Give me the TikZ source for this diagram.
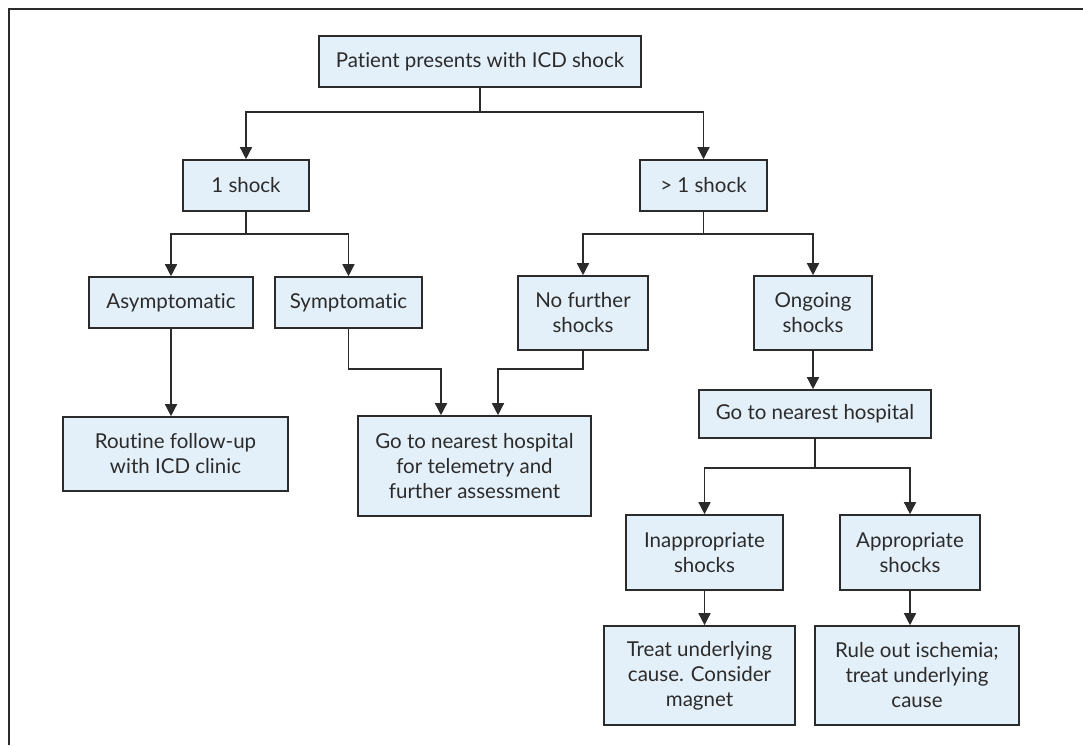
\documentclass[tikz,border=0pt]{standalone}
\usepackage{fontspec}
\setmainfont{Lato}[Ligatures={NoCommon}]
\usetikzlibrary{arrows.meta}
\definecolor{boxfill}{HTML}{E4F0F9}
\definecolor{ink}{HTML}{2B2B2B}
\begin{document}
\begin{tikzpicture}[x=1pt,y=-1pt,
  box/.style={draw=ink, line width=1.6pt, fill=boxfill, text=ink, inner sep=0pt,
    align=center, font=\fontsize{20.5}{25}\selectfont},
  conn/.style={draw=ink, line width=1.4pt, -{Triangle[width=12pt,length=12pt]}},
  plain/.style={draw=ink, line width=1.4pt},
  frame/.style={draw=ink, line width=1.8pt}]
\useasboundingbox (0,0) rectangle (1083,745);
\draw[frame] (9,745) -- (9,9) -- (1083,9);

\node[box, minimum width=322pt, minimum height=51pt] (top) at (480,61.5) {Patient presents with ICD shock};
\node[box, minimum width=126pt, minimum height=51pt] (s1) at (246,185.5) {1 shock};
\node[box, minimum width=127pt, minimum height=51pt] (sm) at (703.5,185.5) {> 1 shock};
\node[box, minimum width=164pt, minimum height=51pt] (asym) at (171,302.5) {Asymptomatic};
\node[box, minimum width=147pt, minimum height=51pt] (sym) at (348.5,302.5) {Symptomatic};
\node[box, minimum width=130pt, minimum height=74pt] (nof) at (583,313) {No further\\shocks};
\node[box, minimum width=118pt, minimum height=74pt] (ong) at (813,313) {Ongoing\\shocks};
\node[box, minimum width=225pt, minimum height=74pt] (rout) at (175.5,454) {Routine follow-up\\with ICD clinic};
\node[box, minimum width=233pt, minimum height=100pt] (hosp1) at (474.5,466) {Go to nearest hospital\\for telemetry and\\further assessment};
\node[box, minimum width=232pt, minimum height=48pt] (hosp2) at (815,414) {Go to nearest hospital};
\node[box, minimum width=157pt, minimum height=75pt] (inap) at (704.5,552.5) {Inappropriate\\shocks};
\node[box, minimum width=140pt, minimum height=75pt] (app) at (910,552.5) {Appropriate\\shocks};
\node[box, minimum width=191pt, minimum height=99pt] (treat) at (699.5,675.5) {Treat underlying\\cause. Consider\\magnet};
\node[box, minimum width=204pt, minimum height=99pt] (rule) at (917,675.5) {Rule out ischemia;\\treat underlying\\cause};

\coordinate (j0) at (480,112);
\coordinate (j1) at (246,234);
\coordinate (j2) at (703.5,234);
\coordinate (m1) at (441,369);
\coordinate (m2) at (498,369);
\coordinate (j3) at (815,468);

\draw[plain] (top.south) -- (j0);
\draw[conn] (j0) -| (s1.north);
\draw[conn] (j0) -| (sm.north);
\draw[plain] (s1.south) -- (j1);
\draw[conn] (j1) -| (asym.north);
\draw[conn] (j1) -| (sym.north);
\draw[plain] (sm.south) -- (j2);
\draw[conn] (j2) -| (nof.north);
\draw[conn] (j2) -| (ong.north);
\draw[conn] (asym.south) -- (asym.south |- rout.north);
\draw[conn] (sym.south) |- (m1) -- (m1 |- hosp1.north);
\draw[conn] (nof.south) |- (m2) -- (m2 |- hosp1.north);
\draw[conn] (ong.south) -- (ong.south |- hosp2.north);
\draw[plain] (hosp2.south) -- (j3);
\draw[conn] (j3) -| (inap.north);
\draw[conn] (j3) -| (app.north);
\draw[conn] (inap.south) -- (inap.south |- treat.north);
\draw[conn] (app.south) -- (app.south |- rule.north);
\end{tikzpicture}
\end{document}
